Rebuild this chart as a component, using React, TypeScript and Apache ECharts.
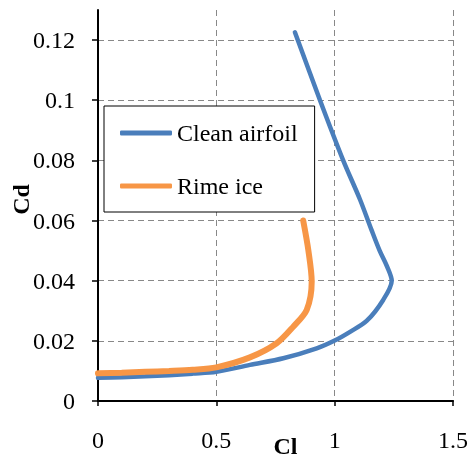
import React, { useEffect, useRef } from "react";
import * as echarts from "echarts";

const seriesNames = ["Clean airfoil", "Rime ice"];
const cleanCl = [0, 0.1, 0.2, 0.3, 0.4, 0.5, 0.642, 0.783, 0.924, 1.0, 1.065, 1.135, 1.205, 1.241, 1.222, 1.19, 1.156, 1.107, 1.036, 0.938, 0.832];
const cleanCd = [0.0077, 0.0079, 0.0082, 0.0086, 0.0091, 0.0097, 0.012, 0.0142, 0.0175, 0.0201, 0.023, 0.0266, 0.0336, 0.04, 0.0446, 0.05, 0.0568, 0.067, 0.08, 0.1, 0.1226];
const rimeCl = [0, 0.1, 0.2, 0.3, 0.4, 0.5, 0.642, 0.755, 0.825, 0.882, 0.903, 0.889, 0.867];
const rimeCd = [0.0092, 0.0094, 0.0097, 0.01, 0.0104, 0.0112, 0.0145, 0.0192, 0.0247, 0.0303, 0.0397, 0.05, 0.06];
const yTicks = [0, 0.02, 0.04, 0.06, 0.08, 0.1, 0.12];
const xTicks = [0, 0.5, 1, 1.5];

const FONT = "Liberation Serif";

export default function App() {
  const ref = useRef<HTMLDivElement>(null);
  useEffect(() => {
    if (!ref.current) return;
    const chart = echarts.init(ref.current, null, { renderer: "svg" });
    const zip = (a: number[], b: number[]) => a.map((v, i) => [v, b[i]]);
    const grid = { type: [6, 4], color: "#888", width: 1 };
    chart.setOption({
      animation: false,
      textStyle: { fontFamily: FONT },
      grid: { left: 98, right: 16, top: 10, bottom: 60, containLabel: false, outerBoundsMode: "none" },
      legend: {
        left: 104,
        top: 106,
        orient: "vertical",
        backgroundColor: "#fff",
        borderColor: "#000",
        borderWidth: 1,
        padding: [15, 17, 14, 16],
        icon: "roundRect",
        itemWidth: 52,
        itemHeight: 5,
        itemGap: 29,
        textStyle: { fontFamily: FONT, fontSize: 24, color: "#000" },
        data: seriesNames,
      },
      xAxis: {
        type: "value",
        min: 0,
        max: 1.5,
        interval: 0.5,
        name: "Cl",
        nameLocation: "middle",
        nameGap: 33,
        nameMoveOverlap: false,
        nameTextStyle: { fontFamily: FONT, fontSize: 24, lineHeight: 24, fontWeight: "bold", color: "#000", padding: [0, 0, 0, 20] },
        axisLine: { lineStyle: { color: "#000", width: 2 } },
        axisTick: { show: true, length: 5, lineStyle: { color: "#000", width: 1.5 }, customValues: xTicks },
        axisLabel: { fontFamily: FONT, fontSize: 24, color: "#000", margin: 27, customValues: xTicks },
        splitLine: { show: true, lineStyle: grid, showMinLine: false },
      },
      yAxis: {
        type: "value",
        min: 0,
        max: 0.13,
        interval: 0.02,
        name: "Cd",
        nameLocation: "middle",
        nameGap: 65,
        nameMoveOverlap: false,
        nameTextStyle: { fontFamily: FONT, fontSize: 24, fontWeight: "bold", color: "#000", padding: [0, 0, 0, 12] },
        axisLine: { show: true, lineStyle: { color: "#000", width: 2 } },
        axisTick: { show: true, length: 6, lineStyle: { color: "#000", width: 1.5 }, customValues: yTicks },
        axisLabel: { fontFamily: FONT, fontSize: 24, color: "#000", margin: 23, customValues: yTicks },
        splitLine: { show: true, lineStyle: grid, showMinLine: false },
      },
      series: [
        {
          name: seriesNames[0],
          type: "line",
          data: zip(cleanCl, cleanCd),
          symbol: "none",
          smooth: 0.3,
          lineStyle: { color: "#4A7EBB", width: 4.5, cap: "round" },
          itemStyle: { color: "#4A7EBB" },
        },
        {
          name: seriesNames[1],
          type: "line",
          data: zip(rimeCl, rimeCd),
          symbol: "none",
          smooth: 0.3,
          lineStyle: { color: "#F79646", width: 6, cap: "round" },
          itemStyle: { color: "#F79646" },
        },
      ],
    });
    return () => chart.dispose();
  }, []);
  return <div ref={ref} style={{ position: "fixed", left: 0, top: 0, width: 469, height: 461 }} />;
}
